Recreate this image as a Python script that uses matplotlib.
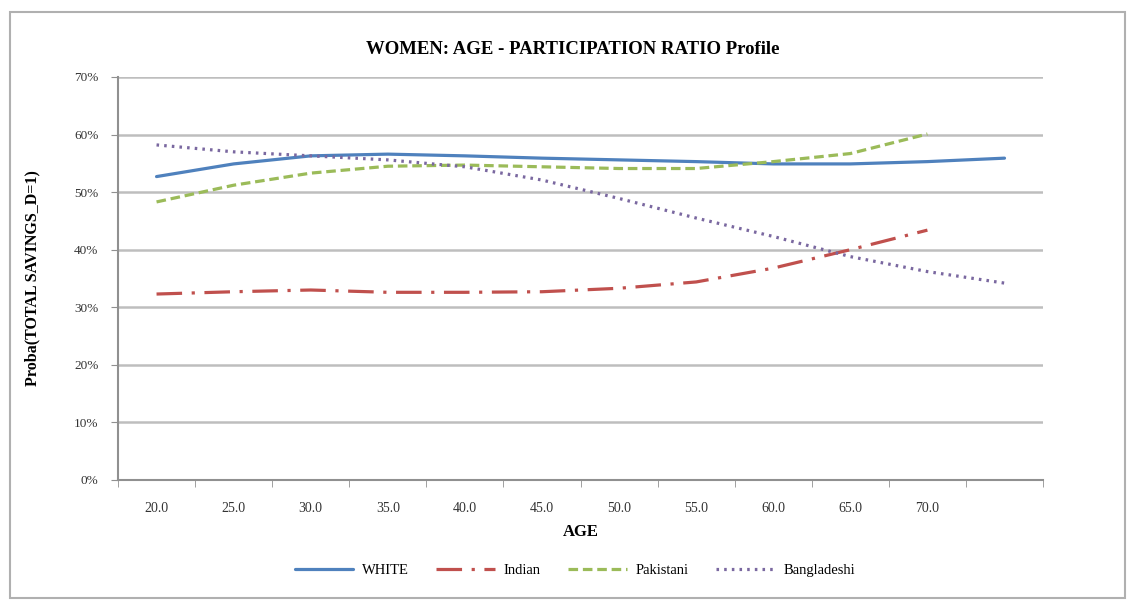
import matplotlib
matplotlib.use("Agg")
import matplotlib.pyplot as plt
import matplotlib.patches as patches
from matplotlib.ticker import FuncFormatter
import numpy as np

plt.rcParams['font.family'] = 'serif'
plt.rcParams['font.serif'] = ['Liberation Serif', 'DejaVu Serif']

# data (probability, %)
age_labels = ["20.0", "25.0", "30.0", "35.0", "40.0", "45.0",
              "50.0", "55.0", "60.0", "65.0", "70.0", ""]
white = [52.7, 54.9, 56.3, 56.6, 56.3, 55.9, 55.6, 55.3, 54.9, 54.9, 55.3, 55.9]
indian = [32.3, 32.7, 33.0, 32.6, 32.6, 32.7, 33.3, 34.4, 36.8, 40.0, 43.4]
pakistani = [48.3, 51.2, 53.3, 54.5, 54.7, 54.4, 54.1, 54.1, 55.3, 56.7, 60.1]
bangladeshi = [58.2, 57.0, 56.3, 55.6, 54.4, 52.1, 48.9, 45.5, 42.3, 38.8, 36.2, 34.2]

series = [
    ("WHITE", white, "#4F81BD", "-"),
    ("Indian", indian, "#C0504D", (0, (8, 3, 1, 3))),
    ("Pakistani", pakistani, "#9BBB59", (0, (3, 1.5))),
    ("Bangladeshi", bangladeshi, "#7A68A0", (0, (0.8, 1.6))),
]


def plot_data():
    fig = plt.figure(figsize=(11.27, 6.0), dpi=100)
    ax = fig.add_axes([0.1047, 0.2, 0.8208, 0.6717])

    # outer chart frame
    fig.patches.append(patches.Rectangle((10 / 1127, 2 / 600), 1115 / 1127, 586 / 600,
                                         transform=fig.transFigure, fill=False,
                                         edgecolor="#B0B0B0", linewidth=1.5))

    for name, vals, color, ls in series:
        x = np.arange(len(vals))
        ax.plot(x, vals, label=name, color=color, linestyle=ls, linewidth=2.3,
                solid_capstyle="round", dash_capstyle="butt")

    ax.set_xlim(-0.5, len(age_labels) - 0.5)
    ax.set_ylim(0, 70)
    ax.set_yticks(np.arange(0, 71, 10))
    ax.yaxis.set_major_formatter(FuncFormatter(lambda v, p: f"{v:.0f}%"))
    ax.grid(axis="y", color="#BEBEBE", linewidth=1.8)
    ax.set_axisbelow(True)

    ax.set_xticks(np.arange(len(age_labels)))
    ax.set_xticklabels(age_labels)
    ax.set_xticks(np.arange(-0.5, len(age_labels)), minor=True)
    ax.tick_params(axis="x", which="major", length=0, pad=16, labelsize=10, labelcolor="#333333")
    ax.tick_params(axis="x", which="minor", length=5, direction="out", color="#909090")
    ax.tick_params(axis="y", length=5, direction="out", color="#909090", labelsize=9.5,
                   labelcolor="#333333", pad=9)

    for s in ["top", "right"]:
        ax.spines[s].set_visible(False)
    for s in ["left", "bottom"]:
        ax.spines[s].set_color("#909090")
        ax.spines[s].set_linewidth(1.5)

    ax.set_xlabel("AGE", fontsize=12, fontweight="bold", labelpad=6)
    ax.set_ylabel("Proba(TOTAL SAVINGS_D=1)", fontsize=11.5, fontweight="bold", labelpad=24)
    fig.text(0.508, 0.917, "WOMEN: AGE - PARTICIPATION RATIO Profile",
             ha="center", va="center", fontsize=13.5, fontweight="bold")

    fig.legend(loc="center", bbox_to_anchor=(0.51, 0.05), ncol=4, frameon=False,
               fontsize=10.5, handlelength=4, columnspacing=1.9, handletextpad=0.6)

    fig.savefig("out.png", dpi=100)


if __name__ == "__main__":
    plot_data()
